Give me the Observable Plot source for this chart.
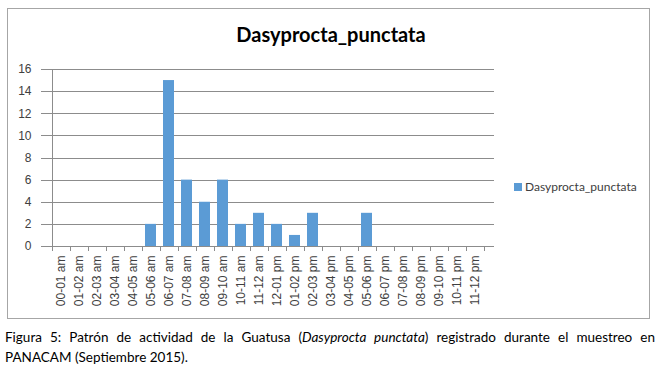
<!DOCTYPE html>
<html>
<head>
<meta charset="utf-8">
<script src="https://cdn.jsdelivr.net/npm/d3@7"></script>
<script src="https://cdn.jsdelivr.net/npm/@observablehq/plot@0.6"></script>
<style>
  body { margin: 0; background: #fff; }
  #wrap { position: relative; width: 662px; height: 371px; overflow: hidden; background: #fff; }
  #box { position: absolute; left: 7px; top: 8px; width: 643px; height: 311px; border: 1px solid #a6a6a6; box-sizing: border-box; }
  #chart { position: absolute; left: 0; top: 0; }
  #title { position: absolute; left: 0; width: 662px; top: 22px; text-align: center; font: bold 20px Lato, "Open Sans", sans-serif; color: #000; }
  #legend { position: absolute; left: 514px; top: 179px; font: 12px Lato, "Open Sans", sans-serif; color: #404040; display: flex; align-items: center; }
  #legend span.sw { display: inline-block; width: 8px; height: 8px; background: #5B9BD5; margin-right: 3px; }
  #caption { position: absolute; left: 5px; top: 327px; width: 650px; font: 13.5px Lato, "Open Sans", sans-serif; color: #000; line-height: 20px; }
  #caption .l1 { text-align: justify; text-align-last: justify; white-space: nowrap; }
</style>
</head>
<body>
<div id="wrap">
  <div id="box"></div>
  <div id="chart"></div>
  <div id="title">Dasyprocta_punctata</div>
  <div id="legend"><span class="sw"></span>Dasyprocta_punctata</div>
  <div id="caption">
    <div class="l1">Figura 5: Patrón de actividad de la Guatusa (<i>Dasyprocta punctata</i>) registrado durante el muestreo en</div>
    <div>PANACAM (Septiembre 2015).</div>
  </div>
</div>
<script>
const categories = ["00-01 am","01-02 am","02-03 am","03-04 am","04-05 am","05-06 am","06-07 am","07-08 am","08-09 am","09-10 am","10-11 am","11-12 am","12-01 pm","01-02 pm","02-03 pm","03-04 pm","04-05 pm","05-06 pm","06-07 pm","07-08 pm","08-09 pm","09-10 pm","10-11 pm","11-12 pm"];
const counts = [0,0,0,0,0,2,15,6,4,6,2,3,2,1,3,0,0,3,0,0,0,0,0,0];
const yTicks = [0,2,4,6,8,10,12,14,16];
const seriesName = "Dasyprocta_punctata";

const data = categories.map((c, i) => ({hour: c, value: counts[i]}));

function frameTicks(index, scales, values, dims) {
  const x = scales.x, y = scales.y;
  const step = x(categories[1]) - x(categories[0]);
  const bw = x.bandwidth ? x.bandwidth() : step * 0.62;
  const start = x(categories[0]) - (step - bw) / 2;
  const y0 = y(0), yTop = y(yTicks[yTicks.length - 1]);
  const g = d3.create("svg:g").attr("stroke", "#8c8c8c").attr("stroke-width", 1).attr("shape-rendering", "crispEdges");
  for (let i = 0; i <= categories.length; i++) {
    const xx = Math.round(start + i * step) + 0.5;
    g.append("line").attr("x1", xx).attr("x2", xx).attr("y1", y0).attr("y2", y0 + 5);
  }
  const xl = Math.round(start) + 0.5;
  g.append("line").attr("x1", xl).attr("x2", xl).attr("y1", yTop).attr("y2", y0);
  return g.node();
}

const plot = Plot.plot({
  width: 662,
  height: 320,
  marginLeft: 41,
  marginRight: 168,
  marginTop: 69,
  marginBottom: 74,
  style: {background: "transparent", fontFamily: "Arial, 'Liberation Sans', sans-serif", fontSize: "12px", color: "#404040"},
  x: {domain: categories, paddingInner: 0.38, paddingOuter: 0.19, label: null},
  y: {domain: [0, 16], label: null},
  marks: [
    Plot.ruleY(yTicks, {stroke: "#8c8c8c", strokeOpacity: 1, shapeRendering: "crispEdges"}),
    Plot.barY(data, {x: "hour", y: "value", fill: "#5B9BD5"}),
    frameTicks,
    Plot.axisY({ticks: yTicks, tickSize: 0, tickPadding: 10, fontSize: 12, fill: "#404040"}),
    Plot.axisX({tickRotate: -90, tickSize: 0, tickPadding: 9, fontSize: 12, fill: "#404040"})
  ]
});
document.getElementById("chart").appendChild(plot);
</script>
</body>
</html>
